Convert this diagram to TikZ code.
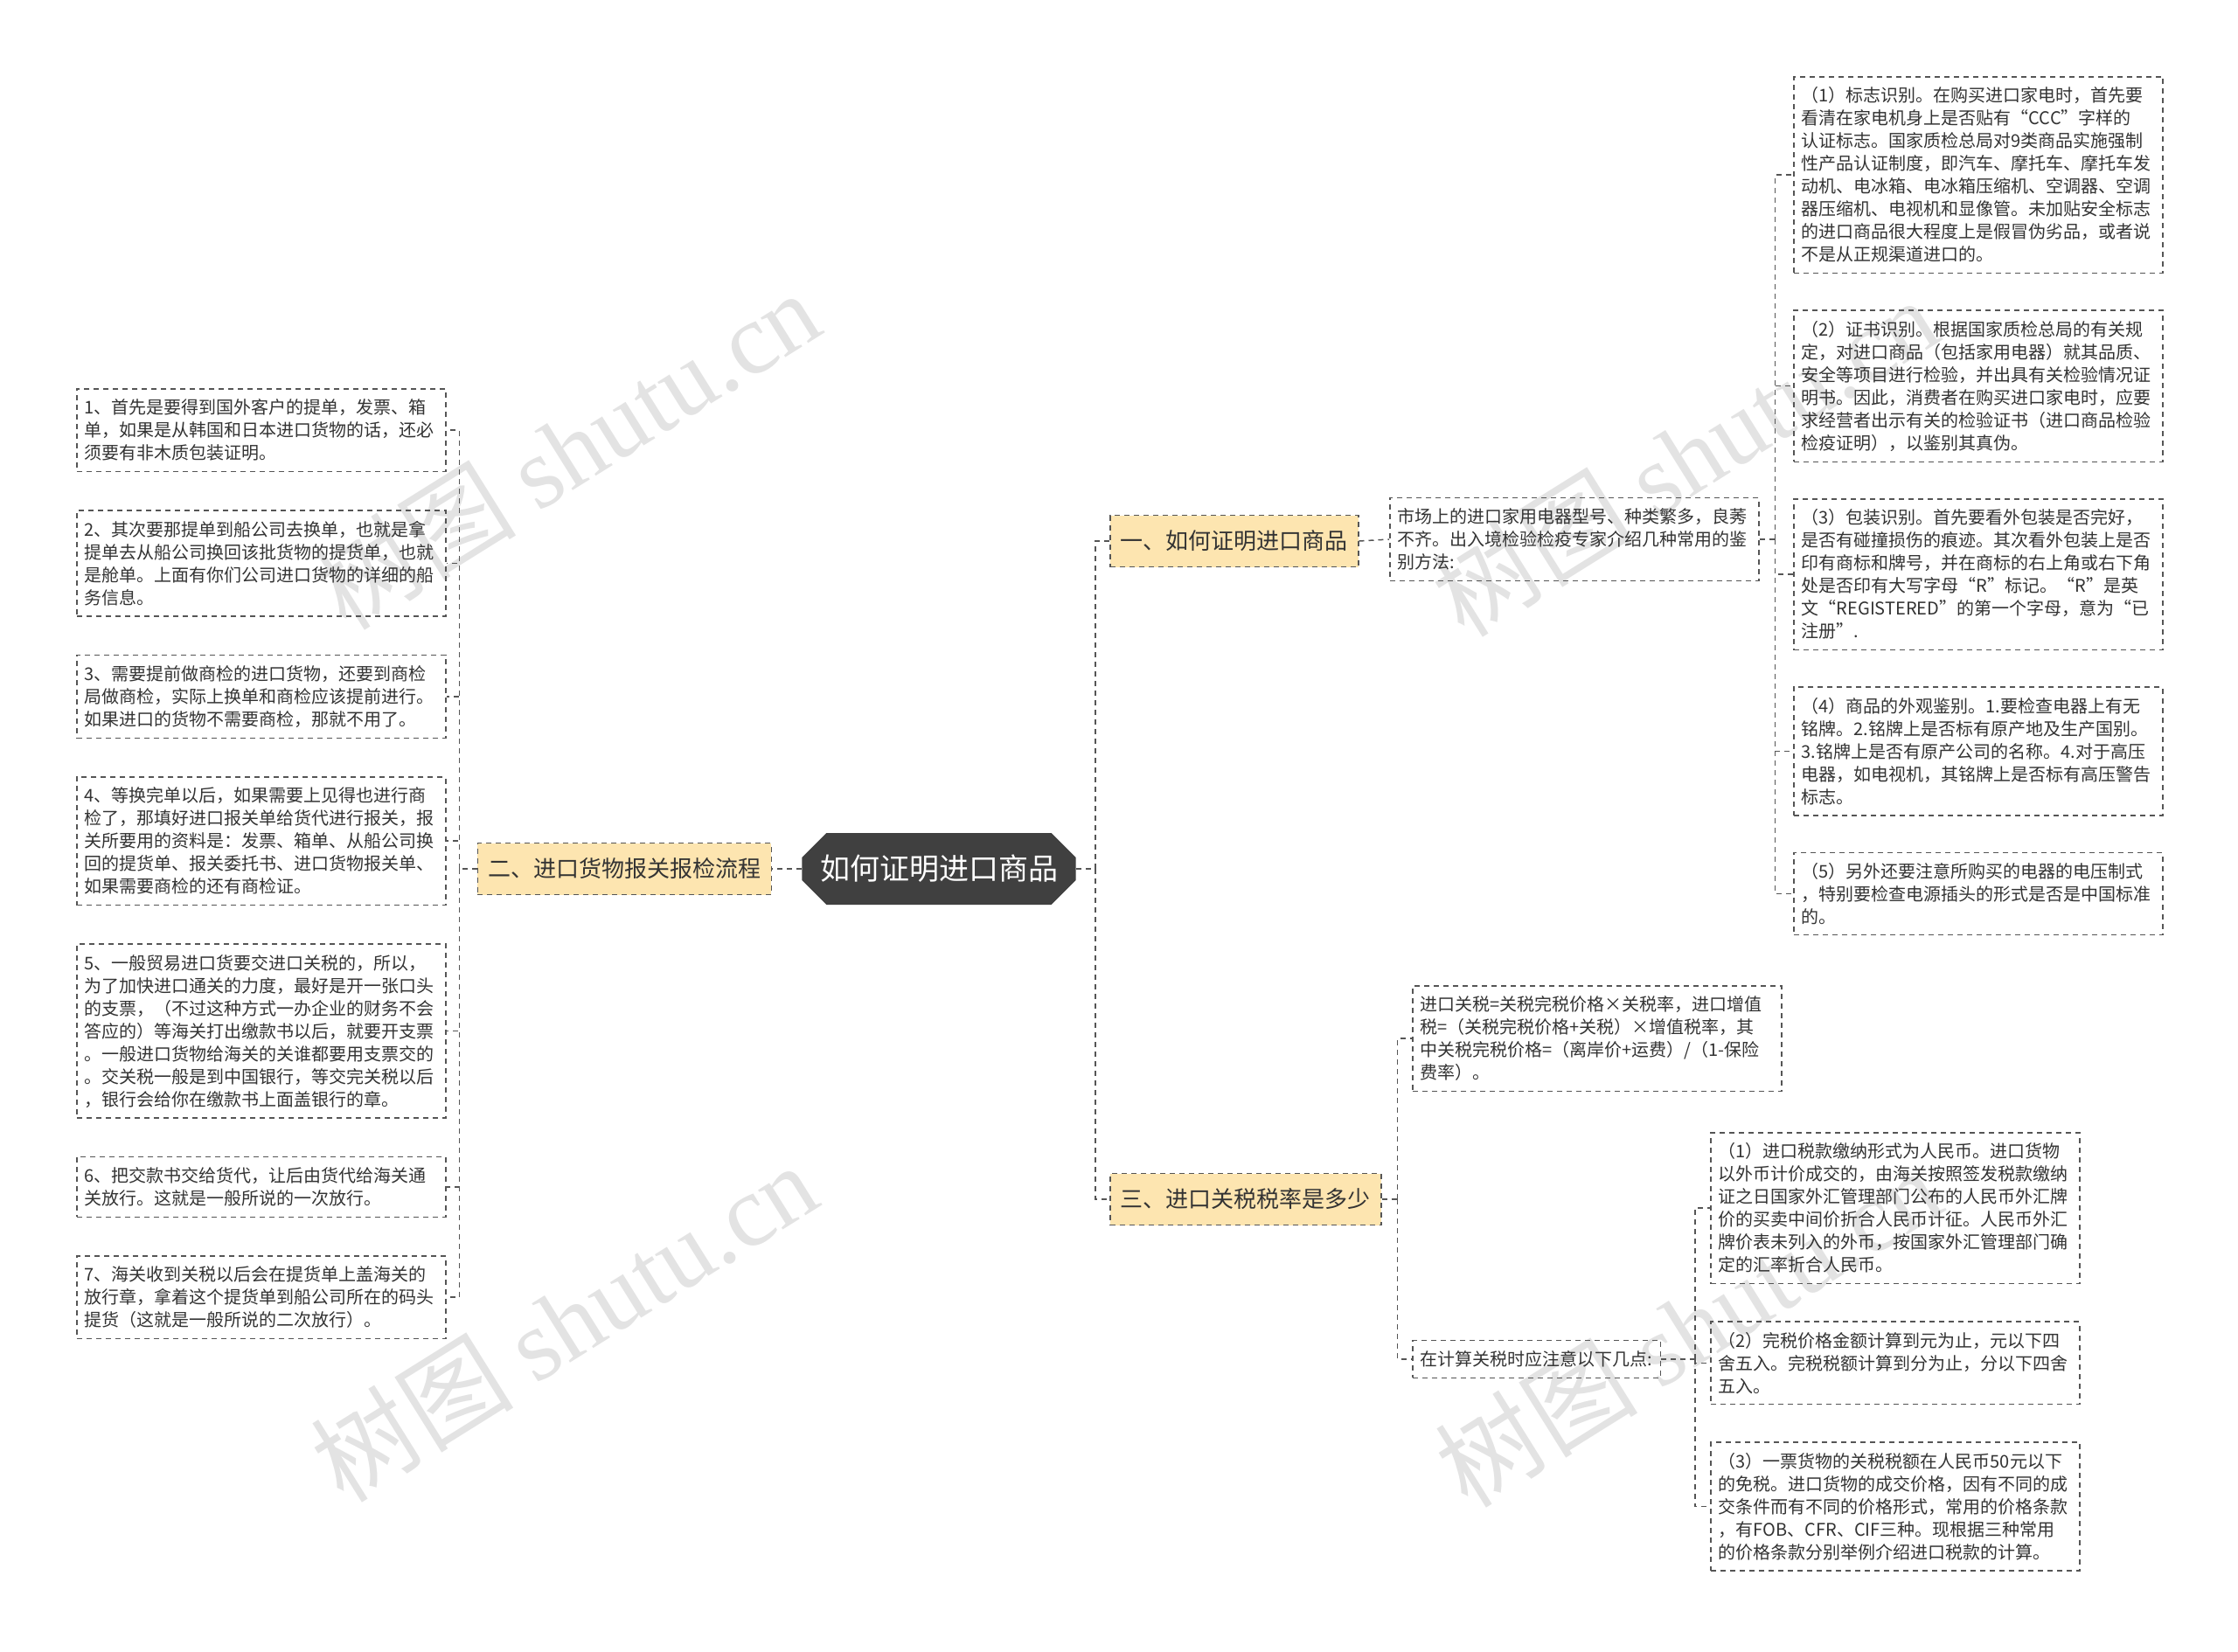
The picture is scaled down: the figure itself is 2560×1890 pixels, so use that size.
\documentclass[tikz,border=0pt]{standalone}
\usepackage{fontspec}
\setmainfont{Noto Sans CJK SC}
\newfontfamily\wmlatin{Liberation Serif}
\usetikzlibrary{positioning,shapes.misc}
\definecolor{rootgray}{RGB}{64,64,64}
\definecolor{topicyellow}{RGB}{253,229,176}
\definecolor{dashgray}{RGB}{85,85,85}
\definecolor{textgray}{RGB}{51,51,51}
\tikzset{
  branchline/.style={draw=dashgray, line width=0.75pt, dash pattern=on 3pt off 2.5pt},
  leaf/.style={draw=dashgray, line width=0.75pt, dash pattern=on 3pt off 2.5pt,
    text=textgray, align=left, text width=202pt, inner xsep=4.5pt, inner ysep=6pt,
    font=\fontsize{10pt}{13pt}\selectfont},
  topic/.style={draw=dashgray, line width=0.75pt, dash pattern=on 3pt off 2.5pt,
    fill=topicyellow, text=textgray, inner xsep=6pt, minimum height=29.5pt,
    font=\fontsize{13pt}{16pt}\selectfont},
  root/.style={chamfered rectangle, chamfered rectangle xsep=7pt, chamfered rectangle ysep=7pt,
    fill=rootgray, text=white, minimum width=155pt, minimum height=41pt, inner ysep=2pt,
    font=\fontsize{17pt}{20pt}\selectfont},
  watermark/.style={text=black!11, rotate=32, font=\fontsize{58pt}{58pt}\selectfont}
}
\begin{document}
\begin{tikzpicture}[x=0.5pt,y=-0.5pt]
\useasboundingbox (0,0) rectangle (2560,1890);
% watermarks
\foreach \wx/\wy in {648/514, 645/1512, 1927/522, 1931/1518}
  \node[watermark] at (\wx,\wy) {树图 {\wmlatin shutu.cn}};

% centre and topics
\node[root] (root) at (1074,994) {如何证明进口商品};
\node[topic, anchor=west] (t1) at (1269,619) {一、如何证明进口商品};
\node[topic, anchor=east] (t2) at (883,994) {二、进口货物报关报检流程};
\node[topic, anchor=west] (t3) at (1269,1372) {三、进口关税税率是多少};

% left: customs steps
\node[leaf, anchor=north west] (l1) at (87,444) {1、首先是要得到国外客户的提单，发票、箱\\单，如果是从韩国和日本进口货物的话，还必\\须要有非木质包装证明。};
\node[leaf, below=21.5pt of l1] (l2) {2、其次要那提单到船公司去换单，也就是拿\\提单去从船公司换回该批货物的提货单，也就\\是舱单。上面有你们公司进口货物的详细的船\\务信息。};
\node[leaf, below=21.5pt of l2] (l3) {3、需要提前做商检的进口货物，还要到商检\\局做商检，实际上换单和商检应该提前进行。\\如果进口的货物不需要商检，那就不用了。};
\node[leaf, below=21.5pt of l3] (l4) {4、等换完单以后，如果需要上见得也进行商\\检了，那填好进口报关单给货代进行报关，报\\关所要用的资料是：发票、箱单、从船公司换\\回的提货单、报关委托书、进口货物报关单、\\如果需要商检的还有商检证。};
\node[leaf, below=21.5pt of l4] (l5) {5、一般贸易进口货要交进口关税的，所以，\\为了加快进口通关的力度，最好是开一张口头\\的支票，（不过这种方式一办企业的财务不会\\答应的）等海关打出缴款书以后，就要开支票\\。一般进口货物给海关的关谁都要用支票交的\\。交关税一般是到中国银行，等交完关税以后\\，银行会给你在缴款书上面盖银行的章。};
\node[leaf, below=21.5pt of l5] (l6) {6、把交款书交给货代，让后由货代给海关通\\关放行。这就是一般所说的一次放行。};
\node[leaf, below=21.5pt of l6] (l7) {7、海关收到关税以后会在提货单上盖海关的\\放行章，拿着这个提货单到船公司所在的码头\\提货（这就是一般所说的二次放行）。};

% right top: identification
\node[leaf, anchor=west] (d1) at (1589,617) {市场上的进口家用电器型号、种类繁多，良莠\\不齐。出入境检验检疫专家介绍几种常用的鉴\\别方法:};
\node[leaf, anchor=north west] (r1) at (2051,87) {（1）标志识别。在购买进口家电时，首先要\\看清在家电机身上是否贴有“CCC”字样的\\认证标志。国家质检总局对9类商品实施强制\\性产品认证制度，即汽车、摩托车、摩托车发\\动机、电冰箱、电冰箱压缩机、空调器、空调\\器压缩机、电视机和显像管。未加贴安全标志\\的进口商品很大程度上是假冒伪劣品，或者说\\不是从正规渠道进口的。};
\node[leaf, below=20.5pt of r1] (r2) {（2）证书识别。根据国家质检总局的有关规\\定，对进口商品（包括家用电器）就其品质、\\安全等项目进行检验，并出具有关检验情况证\\明书。因此，消费者在购买进口家电时，应要\\求经营者出示有关的检验证书（进口商品检验\\检疫证明），以鉴别其真伪。};
\node[leaf, below=20.5pt of r2] (r3) {（3）包装识别。首先要看外包装是否完好，\\是否有碰撞损伤的痕迹。其次看外包装上是否\\印有商标和牌号，并在商标的右上角或右下角\\处是否印有大写字母“R”标记。“R”是英\\文“REGISTERED”的第一个字母，意为“已\\注册”.};
\node[leaf, below=20.5pt of r3] (r4) {（4）商品的外观鉴别。1.要检查电器上有无\\铭牌。2.铭牌上是否标有原产地及生产国别。\\3.铭牌上是否有原产公司的名称。4.对于高压\\电器，如电视机，其铭牌上是否标有高压警告\\标志。};
\node[leaf, below=20.5pt of r4] (r5) {（5）另外还要注意所购买的电器的电压制式\\，特别要检查电源插头的形式是否是中国标准\\的。};

% right bottom: tariff
\node[leaf, anchor=north west] (tf) at (1615,1127) {进口关税=关税完税价格×关税率，进口增值\\税=（关税完税价格+关税）×增值税率，其\\中关税完税价格=（离岸价+运费）/（1-保险\\费率）。};
\node[leaf, text width=, anchor=west] (tn) at (1615,1555) {在计算关税时应注意以下几点:};
\node[leaf, anchor=north west] (n1) at (1956,1295) {（1）进口税款缴纳形式为人民币。进口货物\\以外币计价成交的，由海关按照签发税款缴纳\\证之日国家外汇管理部门公布的人民币外汇牌\\价的买卖中间价折合人民币计征。人民币外汇\\牌价表未列入的外币，按国家外汇管理部门确\\定的汇率折合人民币。};
\node[leaf, below=21pt of n1] (n2) {（2）完税价格金额计算到元为止，元以下四\\舍五入。完税税额计算到分为止，分以下四舍\\五入。};
\node[leaf, below=21pt of n2] (n3) {（3）一票货物的关税税额在人民币50元以下\\的免税。进口货物的成交价格，因有不同的成\\交条件而有不同的价格形式，常用的价格条款\\，有FOB、CFR、CIF三种。现根据三种常用\\的价格条款分别举例介绍进口税款的计算。};

% connectors
\draw[branchline] (root.east) -- ++(22,0) coordinate (rj);
\draw[branchline] (rj) |- (t1.west);
\draw[branchline] (rj) |- (t3.west);
\draw[branchline] (root.west) -- (t2.east);
\draw[branchline] (t2.west) -- ++(-20,0) coordinate (lj);
\foreach \i in {1,...,7}
  \draw[branchline] (lj) |- (l\i.east);
\draw[branchline] (t1.east) -- (d1.west);
\draw[branchline] (d1.east) -- ++(18,0) coordinate (dj);
\foreach \i in {1,...,5}
  \draw[branchline] (dj) |- (r\i.west);
\draw[branchline] (t3.east) -- ++(18,0) coordinate (tj);
\draw[branchline] (tj) |- (tf.west);
\draw[branchline] (tj) |- (tn.west);
\draw[branchline] (tn.east) -- ++(39,0) coordinate (nj);
\foreach \i in {1,2,3}
  \draw[branchline] (nj) |- (n\i.west);
\end{tikzpicture}
\end{document}
